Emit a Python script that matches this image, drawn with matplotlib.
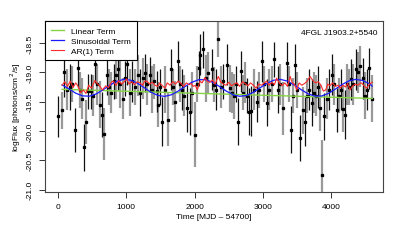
import matplotlib
matplotlib.use("Agg")
import matplotlib.pyplot as plt
import numpy as np

# ---- data: observed light curve (time, logFlux, half error, bar style 0=black 1=grey)
t_obs = [0, 54, 92, 130, 170, 210, 249, 288, 320, 355, 385, 415, 444, 483, 512, 542, 575, 610,
         640, 678, 713, 745, 780, 815, 850, 883, 915, 950, 985, 1015, 1054, 1090, 1130, 1165,
         1200, 1240, 1274, 1310, 1347, 1380, 1410, 1445, 1460, 1495, 1527, 1565, 1615, 1654,
         1685, 1713, 1752, 1780, 1811, 1850, 1884, 1932, 1966, 2006, 2040, 2064, 2079, 2128,
         2165, 2201, 2250, 2284, 2315, 2347, 2380, 2420, 2470, 2518, 2545, 2577, 2610, 2640,
         2675, 2705, 2738, 2770, 2801, 2830, 2865, 2909, 2945, 2982, 3015, 3055, 3090, 3130,
         3167, 3216, 3255, 3299, 3348, 3380, 3411, 3440, 3470, 3505, 3543, 3580, 3616, 3650,
         3680, 3714, 3750, 3780, 3810, 3840, 3870, 3895, 3935, 3970, 4007, 4045, 4080, 4110,
         4140, 4168, 4202, 4235, 4260, 4285, 4320, 4363, 4395, 4425, 4460, 4500, 4530, 4558, 4590]
v_obs = [-19.75, -19.65, -19.00, -19.30, -19.25, -19.20, -19.98, -18.92, -19.30, -19.45, -20.28,
         -19.85, -19.32, -19.32, -19.40, -18.86, -19.20, -19.55, -19.72, -20.05, -19.04, -19.25,
         -19.35, -19.15, -19.05, -18.95, -19.20, -19.45, -19.10, -18.86, -19.35, -19.15, -19.25,
         -19.05, -19.35, -19.10, -19.01, -19.20, -19.04, -19.30, -19.15, -19.32, -19.55, -19.25,
         -19.84, -19.30, -19.81, -18.95, -19.25, -19.50, -18.81, -19.20, -19.30, -19.40, -19.61,
         -19.67, -19.35, -20.06, -19.20, -18.93, -18.70, -18.61, -19.10, -19.01, -18.95, -19.21,
         -19.30, -18.44, -19.25, -19.15, -18.87, -19.27, -19.35, -19.41, -19.20, -19.84, -18.98,
         -19.35, -19.18, -19.40, -19.67, -19.66, -19.30, -19.50, -19.30, -18.81, -19.20, -19.52,
         -19.30, -19.20, -18.78, -19.30, -19.20, -19.61, -18.84, -19.20, -19.98, -19.40, -18.87,
         -19.30, -20.12, -19.65, -19.84, -19.40, -19.30, -19.52, -19.35, -19.40, -19.25, -19.60,
         -20.75, -19.75, -19.45, -19.30, -19.04, -19.20, -19.64, -19.40, -19.30, -19.62, -19.72,
         -19.20, -19.25, -19.12, -19.20, -18.95, -19.00, -18.90, -19.10, -19.40, -19.30, -18.93,
         -19.45]
e_obs = [0.35, 0.32, 0.42, 0.35, 0.40, 0.30, 0.38, 0.35, 0.30, 0.35, 0.40, 0.38, 0.30, 0.30,
         0.35, 0.32, 0.35, 0.40, 0.38, 0.45, 0.35, 0.30, 0.35, 0.30, 0.40, 0.35, 0.40, 0.35,
         0.30, 0.35, 0.40, 0.35, 0.30, 0.35, 0.40, 0.35, 0.32, 0.35, 0.30, 0.40, 0.30, 0.35,
         0.38, 0.30, 0.42, 0.40, 0.45, 0.35, 0.30, 0.35, 0.35, 0.30, 0.35, 0.35, 0.40, 0.40,
         0.35, 0.55, 0.30, 0.30, 0.35, 0.32, 0.40, 0.35, 0.35, 0.30, 0.35, 0.30, 0.35, 0.30,
         0.35, 0.40, 0.35, 0.38, 0.30, 0.40, 0.35, 0.30, 0.35, 0.30, 0.40, 0.42, 0.35, 0.35,
         0.30, 0.35, 0.30, 0.40, 0.35, 0.30, 0.30, 0.40, 0.35, 0.45, 0.35, 0.30, 0.40, 0.30,
         0.35, 0.30, 0.40, 0.40, 0.42, 0.30, 0.35, 0.40, 0.35, 0.35, 0.35, 0.40, 0.60, 0.40,
         0.35, 0.35, 0.35, 0.35, 0.38, 0.30, 0.35, 0.40, 0.42, 0.35, 0.30, 0.35, 0.35, 0.35,
         0.35, 0.35, 0.35, 0.40, 0.35, 0.35, 0.40]
c_obs = [0, 1, 0, 1, 0, 1, 0, 0, 1, 1, 0, 1, 0, 0, 1, 0, 1, 1, 0, 1, 0, 1, 1, 0, 1, 0, 1, 1,
         0, 0, 1, 0, 1, 1, 0, 1, 0, 1, 0, 1, 1, 0, 1, 0, 0, 1, 1, 0, 1, 1, 0, 1, 0, 1, 0, 0,
         1, 1, 1, 0, 0, 0, 1, 1, 0, 1, 0, 1, 1, 0, 0, 1, 1, 1, 0, 0, 0, 1, 1, 0, 0, 0, 1, 0,
         1, 0, 1, 0, 1, 1, 0, 0, 1, 1, 0, 1, 0, 1, 0, 1, 0, 1, 0, 1, 0, 0, 1, 1, 0, 1, 1, 0,
         1, 0, 0, 1, 0, 1, 0, 1, 0, 1, 1, 0, 1, 0, 1, 1, 0, 1, 0, 0, 1]

# ---- model components
t_lin = [60, 4600]
v_lin = [-19.29, -19.445]

t_sin = [60, 160, 260, 360, 460, 560, 660, 760, 860, 960, 1060, 1160, 1260, 1360, 1460, 1560,
         1660, 1760, 1860, 1960, 2060, 2160, 2260, 2360, 2460, 2560, 2660, 2760, 2860, 2960,
         3060, 3160, 3260, 3360, 3460, 3560, 3660, 3760, 3860, 3960, 4060, 4160, 4260, 4360,
         4460, 4560, 4600]
v_sin = [-19.215, -19.283, -19.356, -19.402, -19.406, -19.368, -19.298, -19.219, -19.153,
         -19.121, -19.133, -19.184, -19.260, -19.338, -19.393, -19.410, -19.383, -19.320,
         -19.241, -19.169, -19.126, -19.125, -19.167, -19.238, -19.317, -19.381, -19.409,
         -19.394, -19.340, -19.263, -19.187, -19.134, -19.121, -19.150, -19.216, -19.295,
         -19.366, -19.406, -19.403, -19.359, -19.286, -19.207, -19.145, -19.120, -19.139,
         -19.196, -19.235]

t_ar = [60, 100, 140, 180, 220, 260, 300, 330, 370, 410, 450, 490, 540, 580, 615, 650, 700,
        740, 780, 810, 850, 890, 930, 970, 1005, 1040, 1080, 1120, 1160, 1200, 1240, 1270,
        1300, 1340, 1380, 1420, 1460, 1490, 1530, 1567, 1600, 1640, 1680, 1720, 1760, 1800,
        1840, 1880, 1920, 1950, 1981, 2010, 2040, 2080, 2110, 2150, 2190, 2225, 2260, 2300,
        2347, 2380, 2420, 2460, 2500, 2540, 2580, 2620, 2660, 2700, 2740, 2780, 2820, 2860,
        2900, 2940, 2980, 3020, 3055, 3090, 3130, 3170, 3200, 3240, 3280, 3320, 3360, 3400,
        3430, 3460, 3495, 3530, 3570, 3610, 3650, 3690, 3730, 3770, 3810, 3850, 3885, 3920,
        3950, 3980, 4020, 4060, 4100, 4130, 4170, 4210, 4240, 4275, 4310, 4350, 4390, 4420,
        4445, 4480, 4520, 4558, 4600]
v_ar = [-19.22, -19.16, -19.24, -19.15, -19.26, -19.18, -19.25, -19.35, -19.30, -19.36, -19.22,
        -19.27, -19.14, -19.20, -19.24, -19.30, -19.23, -19.26, -19.17, -19.15, -19.22, -19.14,
        -19.20, -19.16, -19.11, -19.20, -19.16, -19.21, -19.16, -19.18, -19.22, -19.15, -19.15,
        -19.20, -19.17, -19.22, -19.24, -19.18, -19.23, -19.27, -19.18, -19.22, -19.16, -19.20,
        -19.15, -19.19, -19.24, -19.18, -19.21, -19.19, -19.24, -19.22, -19.30, -19.15, -19.18,
        -19.09, -19.16, -19.17, -19.13, -19.20, -19.07, -19.16, -19.20, -19.22, -19.17, -19.23,
        -19.20, -19.18, -19.24, -19.16, -19.19, -19.23, -19.18, -19.22, -19.27, -19.20, -19.22,
        -19.18, -19.15, -19.22, -19.17, -19.21, -19.10, -19.18, -19.23, -19.18, -19.24, -19.07,
        -19.18, -19.20, -19.30, -19.18, -19.22, -19.19, -19.15, -19.07, -19.14, -19.18, -19.16,
        -19.22, -19.32, -19.30, -19.20, -19.23, -19.18, -19.24, -19.22, -19.27, -19.22, -19.25,
        -19.19, -19.30, -19.24, -19.20, -19.22, -19.19, -19.18, -19.23, -19.27, -19.20, -19.17]

x_ticks = [0, 1000, 2000, 3000, 4000]
y_ticks = [-18.5, -19.0, -19.5, -20.0, -20.5, -21.0]
source_name = "4FGL J1903.2+5540"

# ---- plot
plt.rcParams['font.family'] = ['Liberation Sans', 'DejaVu Sans']
fig = plt.figure(figsize=(4.07, 2.51), dpi=100)
ax = fig.add_axes([45 / 407, 58 / 251, 338 / 407, 171 / 251])

t_arr = np.array(t_obs)
v_arr = np.array(v_obs)
e_arr = np.array(e_obs)
c_arr = np.array(c_obs)
for flag, col, lw in [(1, '#999999', 1.6), (0, '#111111', 0.9)]:
    m = c_arr == flag
    ax.vlines(t_arr[m], v_arr[m] - e_arr[m], v_arr[m] + e_arr[m], colors=col, linewidth=lw, zorder=2)
ax.plot(t_arr, v_arr, linestyle='none', marker='s', markersize=1.4, color='black', zorder=3)

ax.plot(t_lin, v_lin, color='#86d444', linewidth=1.0, label='Linear Term', zorder=4)
ax.plot(t_sin, v_sin, color='#1a1aff', linewidth=0.9, label='Sinusoidal Term', zorder=5)
ax.plot(t_ar, v_ar, color='#ff2a2a', linewidth=0.8, label='AR(1) Term', zorder=6)

ax.set_xlim(-190, 4758)
ax.set_ylim(-21.04, -18.125)
ax.set_xticks(x_ticks)
ax.set_xticklabels([str(v) for v in x_ticks])
ax.set_yticks(y_ticks)
ax.set_yticklabels(["%.1f" % v for v in y_ticks], rotation=90, va='center')
ax.tick_params(axis='both', labelsize=6, length=4, width=0.7, color='#333333', pad=4)
for s in ax.spines.values():
    s.set_linewidth(0.8)
    s.set_color('#444444')

ax.set_xlabel("Time [MJD \u2013 54700]", fontsize=6, labelpad=2)
ax.set_ylabel("logFlux [photons/cm$^2$/s]", fontsize=6, labelpad=3)

ax.text(0.985, 0.955, source_name, transform=ax.transAxes, ha='right', va='top', fontsize=6)

leg = ax.legend(loc='upper left', fontsize=6, frameon=True, fancybox=False, borderaxespad=0,
                handlelength=1.6, handletextpad=0.85, labelspacing=0.25, borderpad=0.7)
leg.get_frame().set_edgecolor('black')
leg.get_frame().set_linewidth(0.8)
leg.get_frame().set_alpha(1)

fig.savefig("out.png", dpi=100)
